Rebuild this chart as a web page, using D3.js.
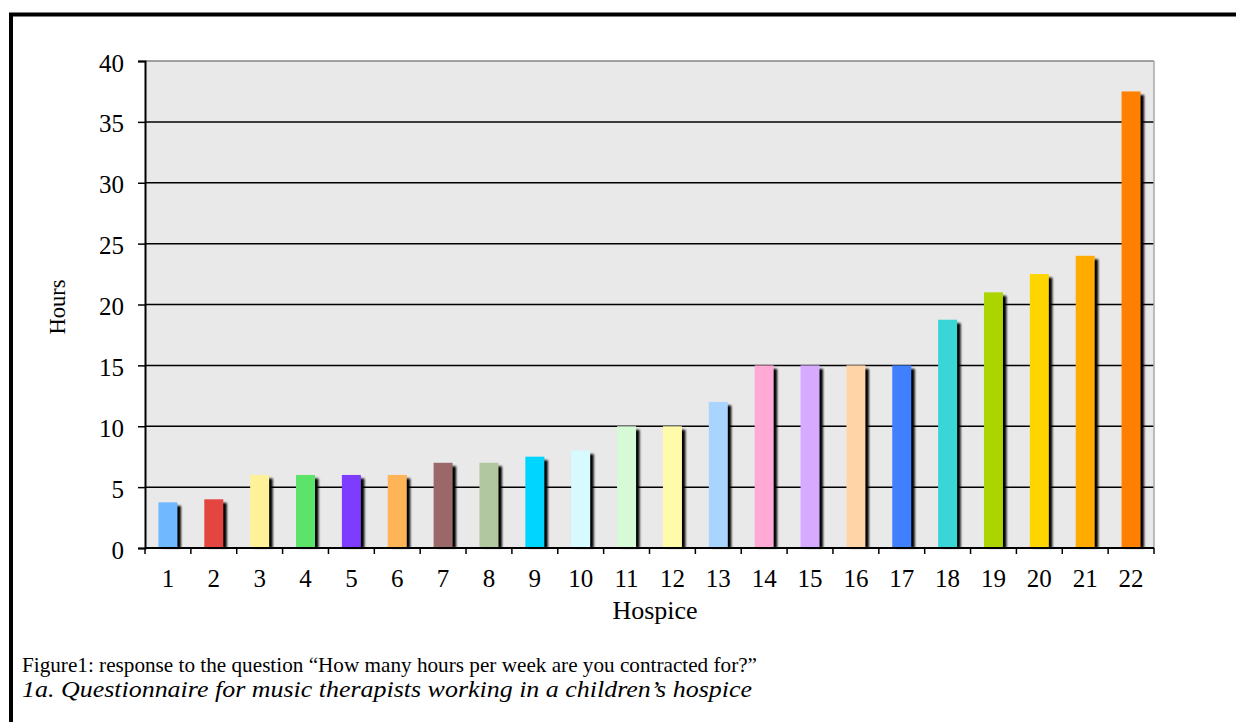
<!DOCTYPE html>
<html><head><meta charset="utf-8">
<script src="https://cdn.jsdelivr.net/npm/d3@7/dist/d3.min.js"></script>
<style>body{margin:0;background:#fff;} svg{display:block;font-family:"Liberation Serif","Times New Roman",serif;}</style>
</head><body>
<svg id="c" width="1236" height="722"></svg>
<script>
const categories = ["1","2","3","4","5","6","7","8","9","10","11","12","13","14","15","16","17","18","19","20","21","22"];
const hours = [3.75,4,6,6,6,6,7,7,7.5,8,10,10,12,15,15,15,15,18.75,21,22.5,24,37.5];
const barColors = ["#70b8ff","#e34541","#fdf29a","#5be36a","#7d3cff","#ffb557","#9a6868","#b1c7a0","#00d5ff","#d6fafe","#d6fad6","#fffbaa","#a8d4ff","#ffaad5","#d6aaff","#ffd5a8","#4080ff","#3ad5d6","#abd400","#ffd500","#ffab00","#ff8000"];
const yTicks = [0,5,10,15,20,25,30,35,40];
const yLabel = "Hours", xLabel = "Hospice";
const caption1 = "Figure1: response to the question \u201cHow many hours per week are you contracted for?\u201d";
const caption2 = "1a. Questionnaire for music therapists working in a children\u2019s hospice";

const svg = d3.select("#c");
const L=145, R=1154, T=61, B=548;
const x = d3.scaleBand().domain(categories).range([L,R]).paddingInner(0).paddingOuter(0);
const y = d3.scaleLinear().domain([0,40]).range([B,T]);

// outer frame
svg.append("rect").attr("x",11).attr("y",14.5).attr("width",1260).attr("height",760)
  .attr("fill","none").attr("stroke","#000").attr("stroke-width",4);

const defs = svg.append("defs");
const f = defs.append("filter").attr("id","blur").attr("x","-50%").attr("y","-10%").attr("width","200%").attr("height","120%");
f.append("feGaussianBlur").attr("stdDeviation",0.9);

// plot bg
svg.append("rect").attr("x",L).attr("y",T).attr("width",R-L).attr("height",B-T).attr("fill","#e9e9e9");
// gridlines
svg.append("g").selectAll("line").data(yTicks.filter(d=>d>0 && d<40)).join("line")
  .attr("x1",L).attr("x2",R).attr("y1",d=>y(d)).attr("y2",d=>y(d)).attr("stroke","#000").attr("stroke-width",1.5);
// top / right border
svg.append("line").attr("x1",L).attr("x2",R).attr("y1",T).attr("y2",T).attr("stroke","#858585").attr("stroke-width",1.5);
svg.append("line").attr("x1",R).attr("x2",R).attr("y1",T).attr("y2",B).attr("stroke","#a8a8a8").attr("stroke-width",1.5);

const bw = 19;
const off = (x.bandwidth()-bw)/2;
// shadows
svg.append("g").attr("filter","url(#blur)").selectAll("rect").data(hours).join("rect")
  .attr("x",(d,i)=>x(categories[i])+off+3.5).attr("y",d=>y(d)+3.5)
  .attr("width",bw).attr("height",d=>B-y(d)-3.5).attr("fill","#000");
// bars
svg.append("g").selectAll("rect").data(hours).join("rect")
  .attr("x",(d,i)=>x(categories[i])+off).attr("y",d=>y(d))
  .attr("width",bw).attr("height",d=>B-y(d)).attr("fill",(d,i)=>barColors[i]);

// y axis
const ya = svg.append("g").attr("transform",`translate(${L},0)`)
  .call(d3.axisLeft(y).tickValues(yTicks).tickSize(7).tickPadding(14));
ya.attr("font-family",null).attr("font-size",null);
ya.select(".domain").attr("stroke","#000").attr("stroke-width",2);
ya.selectAll(".tick line").attr("stroke","#000").attr("stroke-width",1.5);
ya.selectAll("text").attr("font-size",25).attr("fill","#000").attr("dy","0.4em");

// x axis baseline and ticks
svg.append("line").attr("x1",L).attr("x2",R).attr("y1",B).attr("y2",B).attr("stroke","#000").attr("stroke-width",2);
const bounds = categories.map(c=>x(c)).concat([R]);
svg.append("g").selectAll("line").data(bounds).join("line")
  .attr("x1",d=>d).attr("x2",d=>d).attr("y1",B).attr("y2",B+6).attr("stroke","#000").attr("stroke-width",1.5);
svg.append("g").selectAll("text").data(categories).join("text")
  .attr("x",d=>x(d)+x.bandwidth()/2).attr("y",587).attr("text-anchor","middle")
  .attr("font-size",25).attr("fill","#000").text(d=>d);

svg.append("text").attr("transform","translate(65,307) rotate(-90)").attr("text-anchor","middle")
  .attr("font-size",24).attr("textLength",55).attr("lengthAdjust","spacingAndGlyphs").text(yLabel);
svg.append("text").attr("x",655).attr("y",619).attr("text-anchor","middle").attr("font-size",26).text(xLabel);

svg.append("text").attr("x",22).attr("y",672).attr("font-size",22)
  .attr("textLength",735).attr("lengthAdjust","spacingAndGlyphs").text(caption1);
svg.append("text").attr("x",22).attr("y",697).attr("font-size",23).attr("font-style","italic")
  .attr("textLength",730).attr("lengthAdjust","spacingAndGlyphs").text(caption2);
</script>
</body></html>
